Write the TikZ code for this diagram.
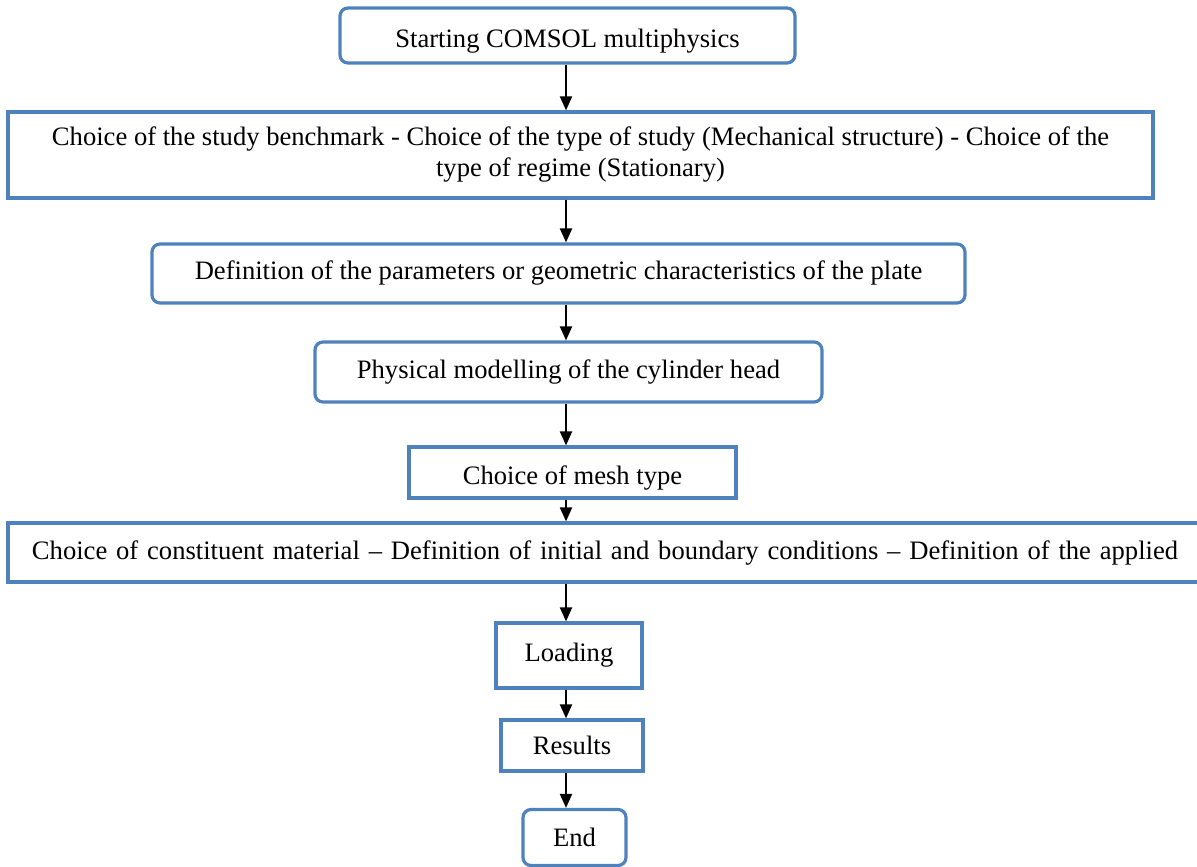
\documentclass[tikz,border=0pt]{standalone}
\usepackage{fontspec}
\setmainfont{Liberation Serif}
\usetikzlibrary{arrows.meta}
\definecolor{boxblue}{RGB}{79,129,189}

\begin{document}
\begin{tikzpicture}[x=0.5pt,y=-0.5pt,
    box/.style={draw=boxblue, line width=1.6pt, fill=white, inner sep=0pt,
        align=center, font=\fontsize{13.3}{15.5}\selectfont},
    roundbox/.style={box, rounded corners=4pt},
    lowtext/.style={text height=12pt, text depth=0pt},
    arr/.style={-{Triangle[length=7pt,width=6pt]}, line width=1pt}]
    \useasboundingbox (0,0) rectangle (1197,866);

    % Boxes of the flow chart, from top to bottom:
    \node[roundbox, lowtext, minimum width=227.5pt, minimum height=27.5pt] (start) at (567.5,35.5)
        {Starting COMSOL multiphysics};
    \node[box, minimum width=572.5pt, minimum height=43pt] (study) at (580.5,155)
        {Choice of the study benchmark - Choice of the type of study (Mechanical structure) - Choice of the\\
         type of regime (Stationary)};
    \node[roundbox, minimum width=406.5pt, minimum height=29.5pt] (param) at (558.5,273.5)
        {Definition of the parameters or geometric characteristics of the plate};
    \node[roundbox, minimum width=253.5pt, minimum height=30pt] (phys) at (568.5,372)
        {Physical modelling of the cylinder head};
    \node[box, lowtext, minimum width=163.5pt, minimum height=25.5pt] (mesh) at (572.5,472.5)
        {Choice of mesh type};
    % this one runs off the right edge of the page
    \node[box, minimum width=597pt, minimum height=29.5pt] (mat) at (605,552.5)
        {\makebox[573pt][s]{Choice of constituent material -- Definition of initial and boundary conditions -- Definition of the applied}};
    \node[box, minimum width=73pt, minimum height=32.5pt] (load) at (569,655.5) {Loading};
    \node[box, minimum width=71pt, minimum height=25.5pt] (res) at (572,745.5) {Results};
    \node[roundbox, minimum width=51.5pt, minimum height=28pt] (end) at (574.5,837.5) {End};

    % Arrows between the boxes:
    \coordinate (spine) at (566,0);
    \draw[arr] (start.south -| spine) -- (study.north -| spine);
    \draw[arr] (study.south -| spine) -- (param.north -| spine);
    \draw[arr] (param.south -| spine) -- (phys.north -| spine);
    \draw[arr] (phys.south -| spine) -- (mesh.north -| spine);
    \draw[arr] (mesh.south -| spine) -- (mat.north -| spine);
    \draw[arr] (mat.south -| spine) -- (load.north -| spine);
    \draw[arr] (load.south -| spine) -- (res.north -| spine);
    \draw[arr] (res.south -| spine) -- (end.north -| spine);
\end{tikzpicture}
\end{document}
